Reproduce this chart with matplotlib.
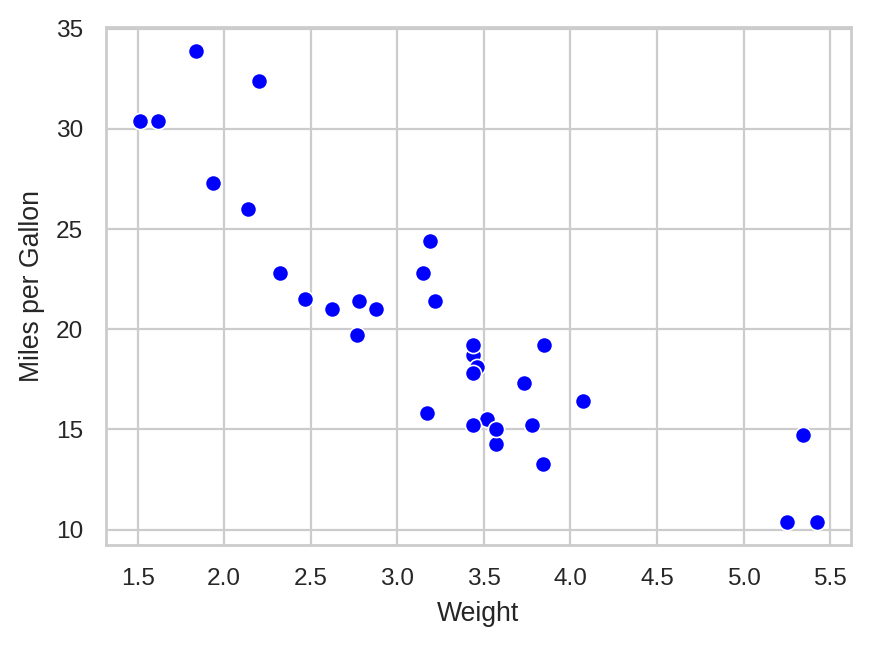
import matplotlib
matplotlib.use("Agg")
import matplotlib.pyplot as plt
import seaborn as sns

# mtcars: weight (1000 lbs) and mpg
wt = [2.620, 2.875, 2.320, 3.215, 3.440, 3.460, 3.570, 3.190, 3.150, 3.440, 3.440,
      4.070, 3.730, 3.780, 5.250, 5.424, 5.345, 2.200, 1.615, 1.835, 2.465, 3.520,
      3.435, 3.840, 3.845, 1.935, 2.140, 1.513, 3.170, 2.770, 3.570, 2.780]
mpg = [21.0, 21.0, 22.8, 21.4, 18.7, 18.1, 14.3, 24.4, 22.8, 19.2, 17.8,
       16.4, 17.3, 15.2, 10.4, 10.4, 14.7, 32.4, 30.4, 33.9, 21.5, 15.5,
       15.2, 13.3, 19.2, 27.3, 26.0, 30.4, 15.8, 19.7, 15.0, 21.4]

sns.set_theme(style="whitegrid", context="paper")
plt.rcParams['font.family'] = ['Liberation Sans', 'DejaVu Sans']

fig, ax = plt.subplots(figsize=(869 / 200, 646 / 200), dpi=200)
fig.subplots_adjust(left=0.122, right=0.979, top=0.958, bottom=0.156)

sns.scatterplot(x=wt, y=mpg, color="blue", s=34, linewidth=0.6, ax=ax)
ax.set_xlabel("Weight")
ax.set_ylabel("Miles per Gallon")

fig.savefig("out.png", dpi=200)
